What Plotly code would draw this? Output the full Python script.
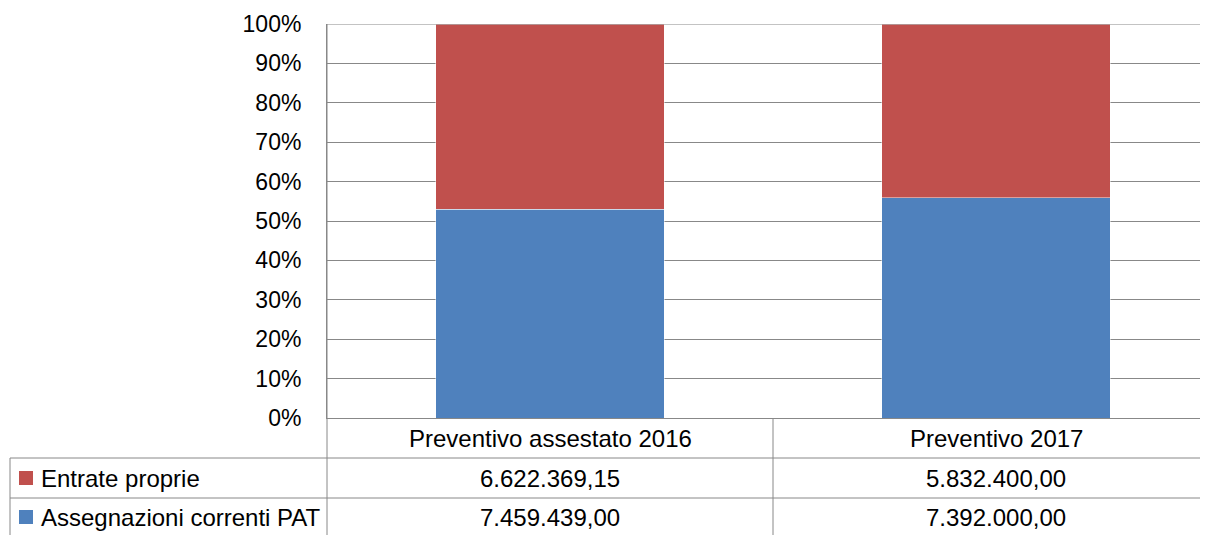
import plotly.graph_objects as go

categories = ["Preventivo assestato 2016", "Preventivo 2017"]
series_names = ["Assegnazioni correnti PAT", "Entrate proprie"]
assegnazioni = [7459439.00, 7392000.00]
entrate = [6622369.15, 5832400.00]
colors = ["#4F81BD", "#C0504D"]
y_ticks = [0, 0.1, 0.2, 0.3, 0.4, 0.5, 0.6, 0.7, 0.8, 0.9, 1.0]

OFF = 8  # page body margin
W, H = 1208 - OFF, 535 - OFF
L, T, B = 327 - OFF, 24 - OFF, 117
plot_w = W - L
plot_h = H - T - B
FONT = "Liberation Sans"
FS = 24
FS_TICK = 23
GRID = "#888888"


def fmt_it(v):
    s = f"{v:,.2f}"
    return s.replace(",", "X").replace(".", ",").replace("X", ".")


def py(pix):
    # screen pixel y -> paper y
    return (H - B - (pix - OFF)) / plot_h


def px(pix):
    return (pix - OFF - L) / plot_w


fig = go.Figure()
for name, vals, col in [(series_names[0], assegnazioni, colors[0]),
                        (series_names[1], entrate, colors[1])]:
    fig.add_trace(go.Bar(x=categories, y=vals, name=name, width=0.513,
                         marker=dict(color=col, line=dict(color="rgba(255,255,255,0.45)", width=1))))

shapes = []
annotations = []
shapes.append(dict(type="line", xref="paper", yref="y", x0=0, x1=1, y0=1, y1=1,
                   line=dict(color=GRID, width=1)))
for pix in [458, 498]:
    shapes.append(dict(type="line", xref="paper", yref="paper", x0=px(10), x1=1, y0=py(pix), y1=py(pix),
                       line=dict(color=GRID, width=1)))
shapes.append(dict(type="line", xref="paper", yref="paper", x0=0, x1=0, y0=1, y1=py(540),
                   line=dict(color=GRID, width=1)))
shapes.append(dict(type="line", xref="paper", yref="paper", x0=px(10), x1=px(10), y0=py(458), y1=py(540),
                   line=dict(color=GRID, width=1)))
shapes.append(dict(type="line", xref="x", yref="paper", x0=0.5, x1=0.5, y0=0, y1=py(540),
                   line=dict(color=GRID, width=1)))

for c in categories:
    annotations.append(dict(x=c, y=py(438), xref="x", yref="paper", text=c, showarrow=False,
                            font=dict(family=FONT, size=FS, color="#000"), xanchor="center", yanchor="middle"))

rows = [(series_names[1], entrate, colors[1], 478), (series_names[0], assegnazioni, colors[0], 517)]
for name, vals, col, ypix in rows:
    shapes.append(dict(type="rect", xref="paper", yref="paper", x0=px(19), x1=px(33),
                       y0=py(ypix - 7), y1=py(ypix + 7), fillcolor=col, line=dict(width=0)))
    annotations.append(dict(x=px(39), y=py(ypix), xref="paper", yref="paper", text=name, showarrow=False,
                            font=dict(family=FONT, size=FS, color="#000"), xanchor="left", yanchor="middle"))
    for c, v in zip(categories, vals):
        annotations.append(dict(x=c, y=py(ypix), xref="x", yref="paper", text=fmt_it(v), showarrow=False,
                                font=dict(family=FONT, size=FS, color="#000"), xanchor="center", yanchor="middle"))

fig.update_layout(
    width=W, height=H, barmode="stack", barnorm="fraction",
    margin=dict(l=L, r=0, t=T, b=B, pad=0),
    paper_bgcolor="white", plot_bgcolor="white", showlegend=False,
    shapes=shapes, annotations=annotations,
    xaxis=dict(range=[-0.5, 1.5 - 11 / 446], showticklabels=False, showgrid=False, zeroline=False,
               showline=True, linecolor=GRID, linewidth=1, fixedrange=True),
    yaxis=dict(range=[0, 1], tickvals=y_ticks, tickformat=".0%", showgrid=True, gridcolor=GRID, gridwidth=1,
               zeroline=False, showline=True, linecolor=GRID, linewidth=1, ticks="",
               ticklabelstandoff=20, tickfont=dict(family=FONT, size=FS_TICK, color="#000")),
)

fig.write_html("out.html")
